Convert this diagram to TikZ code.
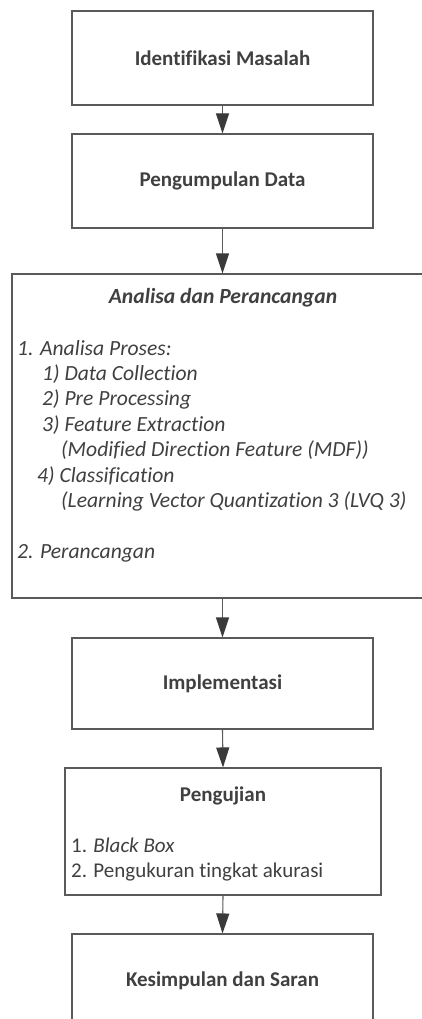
\documentclass[tikz,border=0pt]{standalone}
\usepackage{fontspec}
\setmainfont{Carlito}[Ligatures=NoCommon]
\usetikzlibrary{arrows.meta}
\definecolor{linegray}{HTML}{5A5A5A}
\definecolor{txtgray}{HTML}{404040}
\definecolor{headgray}{HTML}{3A3A3A}
\begin{document}
\begin{tikzpicture}[x=1pt,y=-1pt,
  box/.style={draw=linegray, line width=1.1pt, fill=white, inner sep=0pt},
  lbl/.style={text=txtgray, font=\fontsize{21}{25}\selectfont, inner sep=0pt},
  blbl/.style={lbl, font=\fontsize{21}{25}\selectfont\bfseries},
  line/.style={anchor=base west, text=txtgray, font=\fontsize{21.6}{25}\selectfont\itshape, inner sep=0pt},
  flow/.style={draw=linegray, line width=1.1pt, -{Triangle[length=20pt,width=13pt,fill=headgray,color=headgray]}}
]
\useasboundingbox (0,0) rectangle (422,1019);
\clip (0,0) rectangle (422,1019);
\fill[white] (0,0) rectangle (422,1019);
% boxes
\node[box, minimum width=301pt, minimum height=94pt] (b1) at (222.5,58) {};
\node[box, minimum width=301pt, minimum height=94pt] (b2) at (222.5,181) {};
\node[box, minimum width=421pt, minimum height=324pt] (b3) at (222.5,436) {};
\node[box, minimum width=301pt, minimum height=91pt] (b4) at (222.5,683.5) {};
\node[box, minimum width=316pt, minimum height=127pt] (b5) at (223,831.5) {};
\node[box, minimum width=301pt, minimum height=96pt] (b6) at (222.5,982) {};
% texts
\node[blbl] (t1) at (b1) {Identifikasi Masalah};
\node[blbl] (t2) at (b2) {Pengumpulan Data};
\node[lbl, anchor=base, font=\fontsize{21.6}{25}\selectfont\bfseries\itshape] (t3) at (223,303) {Analisa dan Perancangan};
\node[line] (l1) at (17,355) {1. Analisa Proses:};
\node[line] (l2) at (42,380.5) {1) Data Collection};
\node[line] (l3) at (42,405.5) {2) Pre Processing};
\node[line] (l4) at (42,431) {3) Feature Extraction};
\node[line] (l5) at (61,456.5) {(Modified Direction Feature (MDF))};
\node[line] (l6) at (37,482) {4) Classification};
\node[line] (l7) at (61,507) {(Learning Vector Quantization 3 (LVQ 3)};
\node[line] (l8) at (17,558) {2. Perancangan};
\node[blbl] (t4) at (b4) {Implementasi};
\node[blbl, anchor=base] (t5) at (223,801.5) {Pengujian};
\node[lbl, anchor=base west] (p1) at (71,852) {1. \textit{Black Box}};
\node[lbl, anchor=base west] (p2) at (71,877) {2. Pengukuran tingkat akurasi};
\node[blbl] (t6) at (222.5,981) {Kesimpulan dan Saran};
% connectors
\draw[flow] (b1.south) -- (b2.north);
\draw[flow] (b2.south) -- (b3.north);
\draw[flow] (b3.south) -- (b4.north);
\draw[flow] (b4.south) -- (b5.north);
\draw[flow] (b5.south) -- (b6.north);
\end{tikzpicture}
\end{document}
